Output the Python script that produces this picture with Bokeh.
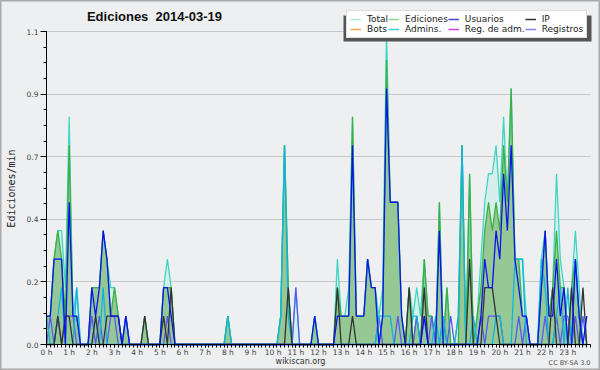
from math import pi
from bokeh.plotting import figure
from bokeh.models import (Range1d, FixedTicker, Label, Legend, LegendItem, BoxAnnotation, Grid)
from bokeh.embed import file_html
from bokeh.resources import INLINE

# ---- data: edits per minute in 10-minute buckets (one row per hour) ----
minutes = list(range(0, 1440, 10))
hour_ticks = list(range(24))
hour_labels = [f"{h} h" for h in hour_ticks]
y_ticks = [0.0, 0.22, 0.44, 0.66, 0.88, 1.1]
y_tick_labels = ["0.0", "0.2", "0.4", "0.7", "0.9", "1.1"]

total = [
    0.1, 0.1, 0.3, 0.4, 0.4, 0.2,   # 0 h
    0.8, 0.1, 0.2, 0.0, 0.0, 0.0,   # 1 h
    0.2, 0.2, 0.2, 0.4, 0.3, 0.2,   # 2 h
    0.2, 0.1, 0.0, 0.1, 0.0, 0.0,   # 3 h
    0.0, 0.0, 0.1, 0.0, 0.0, 0.0,   # 4 h
    0.0, 0.2, 0.3, 0.2, 0.0, 0.0,   # 5 h
    0.0, 0.0, 0.0, 0.0, 0.0, 0.0,   # 6 h
    0.0, 0.0, 0.0, 0.0, 0.0, 0.0,   # 7 h
    0.1, 0.0, 0.0, 0.0, 0.0, 0.0,   # 8 h
    0.0, 0.0, 0.0, 0.0, 0.0, 0.0,   # 9 h
    0.0, 0.0, 0.1, 0.7, 0.2, 0.0,   # 10 h
    0.2, 0.0, 0.0, 0.0, 0.0, 0.1,   # 11 h
    0.0, 0.0, 0.0, 0.0, 0.0, 0.3,   # 12 h
    0.1, 0.1, 0.2, 0.8, 0.1, 0.1,   # 13 h
    0.1, 0.3, 0.2, 0.2, 0.1, 0.2,   # 14 h
    1.1, 0.5, 0.5, 0.5, 0.1, 0.0,   # 15 h
    0.2, 0.1, 0.2, 0.1, 0.3, 0.1,   # 16 h
    0.1, 0.0, 0.5, 0.0, 0.2, 0.0,   # 17 h
    0.0, 0.1, 0.7, 0.0, 0.6, 0.0,   # 18 h
    0.1, 0.3, 0.5, 0.6, 0.6, 0.7,   # 19 h
    0.5, 0.8, 0.5, 0.9, 0.3, 0.3,   # 20 h
    0.3, 0.1, 0.0, 0.0, 0.0, 0.3,   # 21 h
    0.4, 0.1, 0.2, 0.6, 0.3, 0.2,   # 22 h
    0.0, 0.2, 0.4, 0.2, 0.0, 0.1,   # 23 h
]
ediciones = [
    0.1, 0.1, 0.3, 0.4, 0.3, 0.1,
    0.7, 0.1, 0.1, 0.0, 0.0, 0.0,
    0.2, 0.2, 0.2, 0.4, 0.3, 0.1,
    0.2, 0.1, 0.0, 0.1, 0.0, 0.0,
    0.0, 0.0, 0.1, 0.0, 0.0, 0.0,
    0.0, 0.2, 0.2, 0.2, 0.0, 0.0,
    0.0, 0.0, 0.0, 0.0, 0.0, 0.0,
    0.0, 0.0, 0.0, 0.0, 0.0, 0.0,
    0.1, 0.0, 0.0, 0.0, 0.0, 0.0,
    0.0, 0.0, 0.0, 0.0, 0.0, 0.0,
    0.0, 0.0, 0.1, 0.7, 0.2, 0.0,
    0.0, 0.0, 0.0, 0.0, 0.0, 0.1,
    0.0, 0.0, 0.0, 0.0, 0.0, 0.2,
    0.1, 0.1, 0.1, 0.8, 0.1, 0.1,
    0.1, 0.3, 0.2, 0.2, 0.0, 0.1,
    1.0, 0.5, 0.5, 0.5, 0.1, 0.0,
    0.2, 0.0, 0.1, 0.0, 0.3, 0.1,
    0.1, 0.0, 0.5, 0.0, 0.2, 0.0,
    0.0, 0.0, 0.7, 0.0, 0.6, 0.0,
    0.1, 0.2, 0.4, 0.5, 0.4, 0.5,
    0.4, 0.7, 0.5, 0.9, 0.3, 0.3,
    0.1, 0.1, 0.0, 0.0, 0.0, 0.2,
    0.4, 0.1, 0.2, 0.4, 0.2, 0.2,
    0.0, 0.2, 0.3, 0.1, 0.0, 0.0,
]
usuarios = [
    0.1, 0.1, 0.3, 0.3, 0.3, 0.0,
    0.5, 0.1, 0.1, 0.0, 0.0, 0.0,
    0.2, 0.1, 0.2, 0.4, 0.3, 0.1,
    0.1, 0.1, 0.0, 0.1, 0.0, 0.0,
    0.0, 0.0, 0.0, 0.0, 0.0, 0.0,
    0.0, 0.2, 0.2, 0.1, 0.0, 0.0,
    0.0, 0.0, 0.0, 0.0, 0.0, 0.0,
    0.0, 0.0, 0.0, 0.0, 0.0, 0.0,
    0.0, 0.0, 0.0, 0.0, 0.0, 0.0,
    0.0, 0.0, 0.0, 0.0, 0.0, 0.0,
    0.0, 0.0, 0.0, 0.0, 0.0, 0.0,
    0.0, 0.0, 0.0, 0.0, 0.0, 0.1,
    0.0, 0.0, 0.0, 0.0, 0.0, 0.1,
    0.1, 0.1, 0.1, 0.7, 0.1, 0.1,
    0.1, 0.3, 0.2, 0.2, 0.0, 0.1,
    0.9, 0.5, 0.5, 0.5, 0.1, 0.0,
    0.0, 0.0, 0.0, 0.0, 0.1, 0.0,
    0.0, 0.0, 0.4, 0.0, 0.0, 0.0,
    0.0, 0.0, 0.0, 0.0, 0.0, 0.0,
    0.0, 0.1, 0.3, 0.2, 0.2, 0.4,
    0.3, 0.6, 0.4, 0.7, 0.3, 0.2,
    0.1, 0.1, 0.0, 0.0, 0.0, 0.2,
    0.4, 0.1, 0.1, 0.3, 0.1, 0.2,
    0.0, 0.0, 0.3, 0.1, 0.0, 0.1,
]
ip = [
    0.0, 0.0, 0.0, 0.1, 0.0, 0.1,
    0.1, 0.0, 0.0, 0.0, 0.0, 0.0,
    0.0, 0.1, 0.0, 0.0, 0.1, 0.1,
    0.1, 0.1, 0.0, 0.0, 0.0, 0.0,
    0.0, 0.0, 0.1, 0.0, 0.0, 0.0,
    0.0, 0.1, 0.0, 0.2, 0.0, 0.0,
    0.0, 0.0, 0.0, 0.0, 0.0, 0.0,
    0.0, 0.0, 0.0, 0.0, 0.0, 0.0,
    0.0, 0.0, 0.0, 0.0, 0.0, 0.0,
    0.0, 0.0, 0.0, 0.0, 0.0, 0.0,
    0.0, 0.0, 0.0, 0.0, 0.2, 0.0,
    0.0, 0.0, 0.0, 0.0, 0.0, 0.0,
    0.0, 0.0, 0.0, 0.0, 0.0, 0.2,
    0.0, 0.0, 0.0, 0.1, 0.0, 0.0,
    0.0, 0.0, 0.0, 0.0, 0.0, 0.0,
    0.0, 0.0, 0.0, 0.0, 0.0, 0.0,
    0.2, 0.0, 0.0, 0.0, 0.2, 0.0,
    0.0, 0.0, 0.0, 0.0, 0.0, 0.0,
    0.0, 0.0, 0.0, 0.0, 0.3, 0.0,
    0.0, 0.0, 0.2, 0.2, 0.2, 0.1,
    0.0, 0.0, 0.0, 0.0, 0.0, 0.0,
    0.0, 0.0, 0.0, 0.0, 0.0, 0.0,
    0.0, 0.0, 0.2, 0.0, 0.0, 0.0,
    0.0, 0.2, 0.0, 0.0, 0.2, 0.0,
]
admins = [
    0.1, 0.0, 0.0, 0.1, 0.2, 0.0,
    0.0, 0.0, 0.2, 0.0, 0.0, 0.0,
    0.0, 0.1, 0.0, 0.2, 0.0, 0.0,
    0.0, 0.0, 0.0, 0.0, 0.0, 0.0,
    0.0, 0.0, 0.0, 0.0, 0.0, 0.0,
    0.0, 0.0, 0.0, 0.0, 0.0, 0.0,
    0.0, 0.0, 0.0, 0.0, 0.0, 0.0,
    0.0, 0.0, 0.0, 0.0, 0.0, 0.0,
    0.1, 0.0, 0.0, 0.0, 0.0, 0.0,
    0.0, 0.0, 0.0, 0.0, 0.0, 0.0,
    0.0, 0.0, 0.1, 0.7, 0.1, 0.0,
    0.0, 0.0, 0.0, 0.0, 0.0, 0.0,
    0.0, 0.0, 0.0, 0.0, 0.0, 0.0,
    0.0, 0.0, 0.0, 0.0, 0.0, 0.0,
    0.0, 0.0, 0.0, 0.0, 0.1, 0.1,
    0.1, 0.1, 0.0, 0.0, 0.0, 0.0,
    0.0, 0.1, 0.1, 0.0, 0.0, 0.0,
    0.0, 0.1, 0.0, 0.1, 0.0, 0.0,
    0.0, 0.1, 0.7, 0.0, 0.0, 0.1,
    0.0, 0.0, 0.0, 0.0, 0.0, 0.1,
    0.1, 0.0, 0.0, 0.0, 0.3, 0.3,
    0.3, 0.0, 0.0, 0.0, 0.0, 0.3,
    0.2, 0.0, 0.0, 0.1, 0.2, 0.0,
    0.2, 0.0, 0.3, 0.1, 0.0, 0.0,
]
registros = [
    0.0, 0.1, 0.0, 0.1, 0.0, 0.1,
    0.1, 0.1, 0.0, 0.0, 0.0, 0.0,
    0.1, 0.0, 0.1, 0.0, 0.0, 0.1,
    0.1, 0.0, 0.0, 0.1, 0.0, 0.0,
    0.0, 0.0, 0.0, 0.0, 0.0, 0.0,
    0.0, 0.0, 0.1, 0.0, 0.0, 0.0,
    0.0, 0.0, 0.0, 0.0, 0.0, 0.0,
    0.0, 0.0, 0.0, 0.0, 0.0, 0.0,
    0.0, 0.0, 0.0, 0.0, 0.0, 0.0,
    0.0, 0.0, 0.0, 0.0, 0.0, 0.0,
    0.0, 0.0, 0.0, 0.0, 0.0, 0.0,
    0.2, 0.0, 0.0, 0.0, 0.0, 0.0,
    0.0, 0.0, 0.0, 0.0, 0.0, 0.0,
    0.0, 0.0, 0.0, 0.0, 0.0, 0.0,
    0.0, 0.0, 0.0, 0.0, 0.1, 0.0,
    0.0, 0.0, 0.0, 0.1, 0.0, 0.0,
    0.0, 0.0, 0.1, 0.0, 0.1, 0.0,
    0.1, 0.0, 0.0, 0.1, 0.0, 0.1,
    0.0, 0.0, 0.0, 0.0, 0.0, 0.0,
    0.0, 0.1, 0.0, 0.1, 0.1, 0.1,
    0.1, 0.0, 0.0, 0.0, 0.0, 0.1,
    0.0, 0.1, 0.0, 0.0, 0.0, 0.0,
    0.1, 0.0, 0.0, 0.1, 0.0, 0.1,
    0.1, 0.0, 0.1, 0.0, 0.1, 0.0,
]

x = [m / 60 for m in minutes]

# ---- layout (canvas pixels; the data frame fills the whole canvas, axes are pinned) ----
W, H = 600, 370
PL, PR, PT, PB = 46, 590, 31, 344        # where hour 0/24 and value 1.1/0 fall
XMAX, YMAX = 24, 1.1
kx = (PR - PL) / XMAX
ky = (PB - PT) / YMAX


def dx(px):
    return (px - PL) / kx


def dy(py):
    return (PB - py) / ky


BG = "#eeeff1"
p = figure(width=W, height=H, output_backend="svg", toolbar_location=None,
           x_range=Range1d(dx(0), dx(W)), y_range=Range1d(dy(H), dy(0)),
           min_border=0, min_border_left=0, min_border_right=0, min_border_top=0, min_border_bottom=0,
           background_fill_color=BG, border_fill_color=BG)
p.outline_line_color = "#aaaaaa"
p.outline_line_width = 2
p.xgrid.visible = False

# horizontal grid only across the data area
if "cross_bounds" in Grid.properties():
    p.ygrid.ticker = FixedTicker(ticks=y_ticks)
    p.ygrid.cross_bounds = (0, XMAX)
    p.ygrid.grid_line_color = "#c8c8c8"
else:
    p.ygrid.visible = False
    p.segment(x0=0, x1=XMAX, y0=y_ticks, y1=y_ticks, line_color="#c8c8c8", line_width=1, level="underlay")

# axes pinned to the data origin
xa = p.xaxis[0]
xa.fixed_location = 0
xa.bounds = (0, XMAX)
xa.ticker = FixedTicker(ticks=hour_ticks, minor_ticks=[m / 60 for m in range(0, 1441, 10)])
xa.major_label_overrides = {h: lab for h, lab in zip(hour_ticks, hour_labels)}
ya = p.yaxis[0]
ya.fixed_location = 0
ya.bounds = (0, YMAX)
ya.ticker = FixedTicker(ticks=y_ticks, minor_ticks=[k * 0.055 for k in range(21)])
ya.major_label_overrides = {t: lab for t, lab in zip(y_ticks, y_tick_labels)}
for ax in (xa, ya):
    ax.axis_line_color = "black"
    ax.major_tick_line_color = "black"
    ax.minor_tick_line_color = "black"
    ax.major_label_text_font = "DejaVu Sans"
    ax.major_label_text_font_size = "7.5px"
    ax.major_label_text_color = "#444444"
xa.major_tick_out = 3
xa.major_tick_in = 0
xa.minor_tick_out = 3
xa.minor_tick_in = 0
xa.major_label_standoff = 0
ya.major_tick_out = 6
ya.major_tick_in = 0
ya.minor_tick_out = 3
ya.minor_tick_in = 0
ya.major_label_standoff = 2

# fills
p.varea(x=x, y1=0, y2=total, fill_color="#d6efea", fill_alpha=1.0)
p.varea(x=x, y1=0, y2=ediciones, fill_color="#96c896", fill_alpha=1.0)
# lines
lw = 1.3
p.line(x, total, line_color="#3fd6c6", line_width=lw)
p.line(x, ediciones, line_color="#3cb043", line_width=lw)
p.line(x, registros, line_color="#5a5af0", line_width=lw)
p.line(x, admins, line_color="#12b4de", line_width=lw)
p.line(x, ip, line_color="#333333", line_width=lw)
p.line(x, usuarios, line_color="#0a14ee", line_width=lw)

# legend (sample renderers carry the legend colours; their single point draws nothing)
legend_names = ["Total", "Ediciones", "Usuarios", "IP", "Bots", "Admins.", "Reg. de adm.", "Registros"]
legend_colors = ["#a8e6df", "#8fd68f", "#4646dc", "#333333", "#ffa040", "#40cce0", "#d040e0", "#8080ee"]
items = []
for name, col in zip(legend_names, legend_colors):
    r = p.line(x=[0], y=[-5], line_color=col, line_width=1.5)
    items.append(LegendItem(label=name, renderers=[r]))

LEG_L, LEG_T, LEG_W, LEG_H = 346, 12, 248, 26
shadow = BoxAnnotation(left=dx(LEG_L - 3), right=dx(LEG_L + LEG_W - 3),
                       top=dy(LEG_T + 3), bottom=dy(LEG_T + LEG_H + 3),
                       fill_color="#555555", fill_alpha=1.0, line_color=None)
p.add_layout(shadow)

legend = Legend(items=items, location=(LEG_L, H - LEG_T - LEG_H), orientation="horizontal", ncols=4,
                label_text_font="DejaVu Sans", label_text_font_size="9px", label_text_color="#222222",
                label_height=10, glyph_height=10, glyph_width=11, label_standoff=6,
                spacing=0, padding=3, margin=0,
                border_line_color="#bbbbbb", background_fill_color="white", background_fill_alpha=1.0)
p.add_layout(legend)

# texts
p.add_layout(Label(x=dx(154), y=dy(16), text="Ediciones\u00a0 2014-03-19", text_font="Liberation Sans",
                   text_font_style="bold", text_font_size="13px", text_align="center",
                   text_baseline="middle", text_color="#111111"))
p.add_layout(Label(x=dx(11), y=dy(188), text="Ediciones/min", angle=pi / 2, text_font="DejaVu Sans Mono",
                   text_font_size="10px", text_align="center", text_baseline="middle",
                   text_color="#222222"))
p.add_layout(Label(x=dx(300), y=dy(361), text="wikiscan.org", text_font="DejaVu Sans",
                   text_font_size="8px", text_align="center", text_baseline="middle",
                   text_color="#333333"))
p.add_layout(Label(x=dx(590), y=dy(362), text="CC BY-SA 3.0", text_font="DejaVu Sans",
                   text_font_size="6.5px", text_align="right", text_baseline="middle",
                   text_color="#555555"))

open("out.html", "w").write(file_html(p, INLINE))
